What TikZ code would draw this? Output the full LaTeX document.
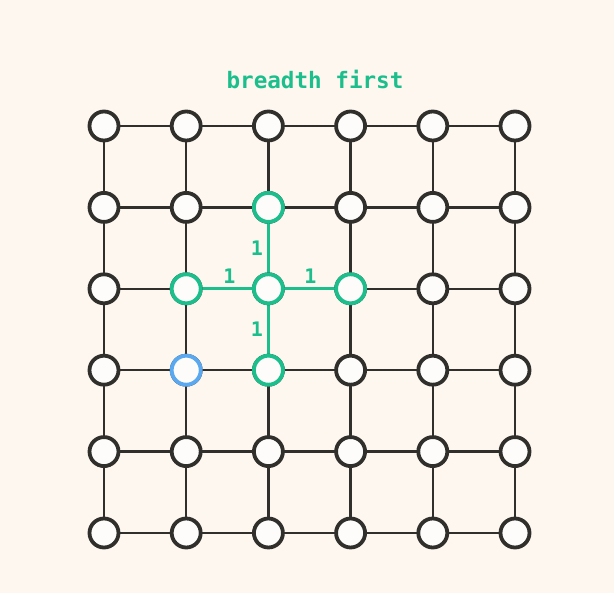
\documentclass[tikz,border=0pt]{standalone}
\usepackage{fontspec}
\newfontfamily\monofont{DejaVu Sans Mono}
\definecolor{bg}{HTML}{FDF7F0}
\definecolor{ink}{HTML}{302F2C}
\definecolor{grn}{HTML}{1CBF8C}
\definecolor{blu}{HTML}{5AA8F0}
\definecolor{nodefill}{HTML}{FDFCFA}
\tikzset{
  vert/.style={circle, draw=ink, fill=nodefill, line width=3.8pt, minimum size=29pt, inner sep=0pt},
  vgreen/.style={vert, draw=grn},
  vblue/.style={vert, draw=blu},
  edge/.style={draw=ink, line width=2.4pt},
  gedge/.style={draw=grn, line width=2.6pt},
  wlabel/.style={text=grn, font=\monofont\bfseries\fontsize{20}{20}\selectfont, inner sep=0pt},
}
\begin{document}
\begin{tikzpicture}[x=1pt,y=-1pt]
\fill[bg] (0,0) rectangle (614,593);
\useasboundingbox (0,0) rectangle (614,593);
\node[text=grn, font=\monofont\bfseries\fontsize{22.6}{22.6}\selectfont] (title) at (315,79) {breadth first};
% node placement
\foreach \i in {0,...,5}{
  \foreach \j in {0,...,5}{
    \coordinate (p\i\j) at ({104+82.2*\i},{126+81.4*\j});
  }
}
% edges
\foreach \i in {0,...,5}{
  \foreach \j [count=\k] in {0,...,4}{
    \draw[edge] (p\i\j) -- (p\i\k);
    \draw[edge] (p\j\i) -- (p\k\i);
  }
}
\draw[gedge] (p21) -- (p22) node[midway, wlabel, xshift=-11.5pt] (l1) {1};
\draw[gedge] (p12) -- (p22) node[midway, wlabel, yshift=12.5pt, xshift=2pt] (l2) {1};
\draw[gedge] (p22) -- (p32) node[midway, wlabel, yshift=12.5pt, xshift=1pt] (l3) {1};
\draw[gedge] (p22) -- (p23) node[midway, wlabel, xshift=-11.5pt] (l4) {1};
% vertices
\foreach \i in {0,...,5}{
  \foreach \j in {0,...,5}{
    \node[vert] (n\i\j) at (p\i\j) {};
  }
}
\node[vgreen] (g21) at (p21) {};
\node[vgreen] (g12) at (p12) {};
\node[vgreen] (g22) at (p22) {};
\node[vgreen] (g32) at (p32) {};
\node[vgreen] (g23) at (p23) {};
\node[vblue] (b13) at (p13) {};
\end{tikzpicture}
\end{document}
